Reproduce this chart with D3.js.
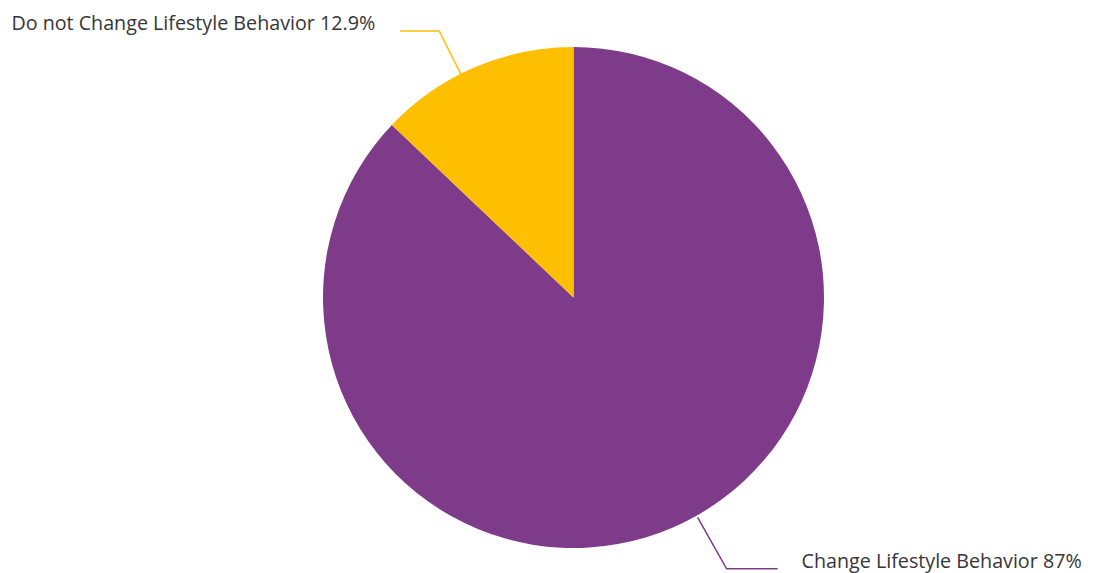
<!DOCTYPE html>
<html>
<head>
<meta charset="utf-8">
<script src="https://cdn.jsdelivr.net/npm/d3@7"></script>
<style>
  html, body { margin: 0; padding: 0; background: #ffffff; }
  svg { display: block; }
  .slice-label { font-family: "Open Sans", "Noto Sans", sans-serif; font-size: 19.7px; fill: #363636; }
</style>
</head>
<body>
<svg id="chart" width="1093" height="573"></svg>
<script>
// Survey shares
const categories = ["Change Lifestyle Behavior", "Do not Change Lifestyle Behavior"];
const values = [87, 12.9];
const valueLabels = ["87%", "12.9%"];
const colors = ["#7e3b8a", "#fdbf00"];

const width = 1093, height = 573;
const cx = 573.5, cy = 297.5, radius = 250.5;

const svg = d3.select("#chart");
const g = svg.append("g").attr("transform", `translate(${cx},${cy})`);

const pie = d3.pie().sort(null).value(d => d.value);
const arcs = pie(categories.map((c, i) => ({ name: c, value: values[i], label: valueLabels[i], color: colors[i] })));

const arc = d3.arc().innerRadius(0).outerRadius(radius);

g.selectAll("path.slice")
  .data(arcs)
  .join("path")
  .attr("class", "slice")
  .attr("d", arc)
  .attr("fill", d => d.data.color);

// Leader lines: radial segment out of the slice, then a short horizontal run
const leader = [
  { angleShift: -6.2, r0: radius + 2, r1: radius + 61, run: 51, gap: 24 },
  { angleShift: -3.5, r0: radius - 2, r1: radius + 48, run: 39, gap: 25 }
];

arcs.forEach((d, i) => {
  const cfg = leader[i];
  const mid = (d.startAngle + d.endAngle) / 2 + cfg.angleShift * Math.PI / 180;
  const p0 = d3.pointRadial(mid, cfg.r0);
  const p1 = d3.pointRadial(mid, cfg.r1);
  const side = p1[0] >= 0 ? 1 : -1;
  const p2 = [p1[0] + side * cfg.run, p1[1]];

  g.append("path")
    .attr("d", d3.line()([p0, p1, p2]))
    .attr("fill", "none")
    .attr("stroke", d.data.color)
    .attr("stroke-width", 1.5);

  g.append("text")
    .attr("class", "slice-label")
    .attr("x", p2[0] + side * cfg.gap)
    .attr("y", p2[1] - 1)
    .attr("text-anchor", side > 0 ? "start" : "end")
    .text(`${d.data.name} ${d.data.label}`);
});
</script>
</body>
</html>
